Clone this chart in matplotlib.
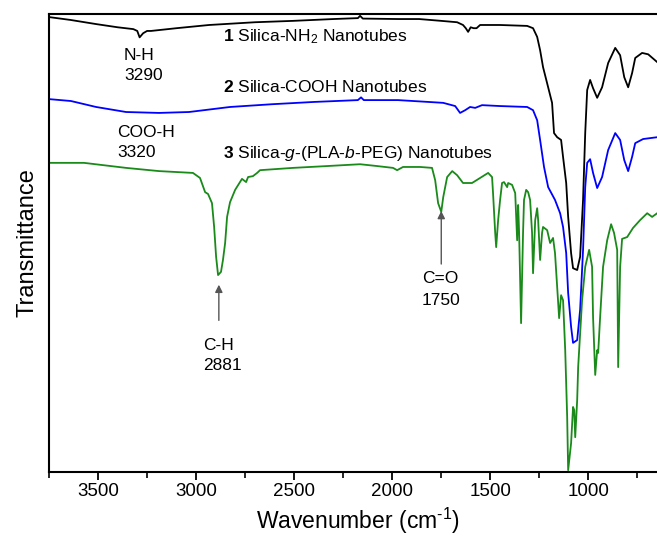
import matplotlib
matplotlib.use("Agg")
import matplotlib.pyplot as plt
from matplotlib.ticker import MultipleLocator

plt.rcParams['font.family'] = ['Liberation Sans', 'DejaVu Sans']
plt.rcParams['mathtext.fontset'] = 'custom'
plt.rcParams['mathtext.rm'] = 'Liberation Sans'
plt.rcParams['mathtext.it'] = 'Liberation Sans:italic'
plt.rcParams['mathtext.bf'] = 'Liberation Sans:bold'

# spectrum 1: Silica-NH2 (wavenumber, transmittance a.u.)
wn1 = [3745, 3640, 3510, 3400, 3320, 3300, 3288, 3270, 3250, 3230, 3100, 2934, 2700, 2506,
       2300, 2175, 2164, 2150, 1970, 1863, 1750, 1669, 1639, 1625, 1613, 1600, 1585, 1570,
       1552, 1450, 1312, 1282, 1261, 1246, 1231, 1205, 1185, 1175, 1159, 1139, 1129, 1113,
       1103, 1088, 1078, 1057, 1042, 1027, 1016, 1006, 991, 976, 955, 930, 899, 863, 838,
       817, 797, 777, 761, 726, 695, 649]
tr1 = [99.3, 98.7, 97.8, 97.1, 96.7, 96.3, 94.9, 95.8, 96.3, 96.3, 96.9, 97.6, 98.2, 98.5,
       98.9, 99.1, 99.6, 99.0, 98.9, 98.9, 98.5, 98.2, 97.6, 96.9, 96.1, 97.1, 96.9, 96.9,
       97.6, 97.6, 97.4, 96.9, 95.0, 92.1, 88.4, 84.0, 80.6, 74.0, 73.1, 72.5, 68.8, 63.1,
       55.7, 47.8, 44.5, 44.1, 47.0, 59.4, 74.0, 83.4, 85.6, 83.8, 81.7, 84.0, 89.3, 92.6, 91.0,
       86.2, 84.0, 87.1, 90.4, 91.5, 91.2, 89.5]

# spectrum 2: Silica-COOH
wn2 = [3745, 3638, 3510, 3357, 3189, 3036, 2827, 2613, 2398, 2175, 2159, 2145, 1970, 1740,
       1679, 1654, 1628, 1603, 1577, 1542, 1450, 1312, 1282, 1261, 1246, 1226, 1205, 1170,
       1144, 1129, 1113, 1103, 1088, 1078, 1057, 1042, 1027, 1016, 1006, 991, 976, 955, 930,
       899, 863, 838, 817, 797, 777, 761, 721, 649]
tr2 = [81.4, 81.0, 79.7, 78.6, 78.4, 78.6, 79.7, 80.3, 80.8, 81.2, 81.8, 81.2, 81.2, 80.6,
       79.9, 78.4, 79.0, 79.7, 79.5, 80.1, 79.9, 79.7, 79.0, 76.8, 72.5, 66.6, 62.2, 59.4,
       56.5, 53.5, 47.8, 39.1, 31.7, 28.2, 28.8, 35.4, 48.5, 62.2, 67.5, 68.3, 65.3, 62.0, 64.4,
       70.3, 74.0, 72.5, 68.1, 65.7, 68.8, 71.8, 72.7, 73.1]

# spectrum 3: Silica-g-(PLA-b-PEG)
wn3 = [3745, 3572, 3357, 3189, 3016, 2980, 2954, 2939, 2919, 2908, 2898, 2888, 2873, 2863,
       2852, 2842, 2827, 2801, 2766, 2745, 2735, 2710, 2689, 2674, 2506, 2332, 2164, 2077,
       1996, 1975, 1945, 1858, 1797, 1781, 1766, 1750, 1740, 1720, 1694, 1669, 1639, 1593,
       1552, 1511, 1491, 1486, 1475, 1470, 1460, 1450, 1440, 1430, 1414, 1409, 1389, 1373,
       1363, 1358, 1353, 1343, 1333, 1328, 1317, 1307, 1297, 1287, 1282, 1271, 1261, 1256,
       1246, 1236, 1231, 1210, 1195, 1180, 1170, 1159, 1149, 1139, 1129, 1118, 1108, 1103,
       1088, 1078, 1072, 1067, 1057, 1052, 1032, 1016, 996, 981, 976, 965, 955, 950, 940,
       925, 904, 884, 869, 853, 848, 838, 828, 802, 772, 736, 700, 675, 649]
tr3 = [67.5, 67.5, 66.4, 65.7, 65.3, 64.2, 61.1, 60.7, 58.7, 53.5, 47.0, 43.0, 43.7, 46.3,
       50.0, 55.7, 58.9, 61.6, 64.0, 63.3, 64.4, 64.6, 65.3, 65.9, 66.4, 66.8, 67.2, 66.8,
       66.4, 65.9, 66.6, 66.6, 66.4, 63.7, 58.7, 56.8, 60.0, 64.4, 65.7, 64.8, 63.1, 63.1,
       64.2, 65.3, 64.4, 60.9, 52.2, 49.1, 55.0, 59.4, 63.1, 63.3, 62.2, 63.1, 62.7, 60.9,
       50.6, 58.3, 52.2, 32.5, 52.2, 59.4, 61.6, 61.1, 59.4, 52.2, 43.4, 55.0, 57.6, 55.0,
       46.3, 52.2, 53.5, 52.8, 50.0, 51.1, 47.8, 40.4, 33.6, 38.6, 37.5, 26.6, 12.0, 0.4,
       6.3, 14.2, 13.5, 7.6, 15.7, 22.9, 37.5, 44.8, 48.5, 44.8, 33.8, 21.2, 26.6, 26.0, 33.8,
       44.8, 50.6, 54.1, 52.2, 48.5, 22.9, 44.8, 50.9, 51.3, 53.3, 55.0, 56.5, 55.7, 56.5]

labels = [r"$\bf{1}$ Silica-NH$_2$ Nanotubes",
          r"$\bf{2}$ Silica-COOH Nanotubes",
          r"$\bf{3}$ Silica-$\it{g}$-(PLA-$\it{b}$-PEG) Nanotubes"]
label_y = [94.1, 83.0, 68.6]
colors = ['black', '#0000ff', '#1a8a1a']

fig = plt.figure(figsize=(6.57, 5.37), dpi=100)
ax = fig.add_axes([49 / 657, 65 / 537, 608 / 657, 458 / 537])

for wn, tr, c in [(wn1, tr1, colors[0]), (wn2, tr2, colors[1]), (wn3, tr3, colors[2])]:
    ax.plot(wn, tr, color=c, lw=1.3)

fs = 12.5
for lab, y in zip(labels, label_y):
    ax.text(2863, y, lab, fontsize=fs, va='baseline', ha='left')

# peak annotations
ax.text(3367, 89.9, "N-H", fontsize=fs, va='baseline')
ax.text(3367, 85.6, "3290", fontsize=fs, va='baseline')
ax.text(3403, 73.1, "COO-H", fontsize=fs, va='baseline')
ax.text(3403, 68.8, "3320", fontsize=fs, va='baseline')

arrow = dict(arrowstyle='-|>', color='#555555', lw=1.0, mutation_scale=11)
ax.annotate("", xy=(2884, 41.5), xytext=(2884, 32.5), arrowprops=arrow)
ax.text(2965, 26.6, "C-H", fontsize=fs, va='baseline')
ax.text(2965, 22.3, "2881", fontsize=fs, va='baseline')
ax.annotate("", xy=(1750, 57.6), xytext=(1750, 44.8), arrowprops=arrow)
ax.text(1849, 41.3, "C=O", fontsize=fs, va='baseline')
ax.text(1849, 36.5, "1750", fontsize=fs, va='baseline')

ax.set_xlim(3750, 650)
ax.set_ylim(0, 100)
ax.xaxis.set_major_locator(MultipleLocator(500))
ax.xaxis.set_minor_locator(MultipleLocator(250))
ax.set_yticks([])
ax.spines['right'].set_visible(False)
for s in ['left', 'bottom', 'top']:
    ax.spines[s].set_linewidth(1.5)
ax.tick_params(axis='x', which='major', direction='out', length=6, width=1.3, labelsize=13.5, pad=2)
ax.tick_params(axis='x', which='minor', direction='out', length=4, width=1.2)

ax.set_xlabel(r"Wavenumber (cm$^{\text{-1}}$)", fontsize=16.5)
ax.xaxis.label.set_va('baseline')
ax.xaxis.set_label_coords(0.508, -0.125)
ax.set_ylabel("Transmittance", fontsize=17)
ax.yaxis.label.set_va('baseline')
ax.yaxis.set_label_coords(-0.0263, 0.5)

fig.savefig("out.png", dpi=100)
